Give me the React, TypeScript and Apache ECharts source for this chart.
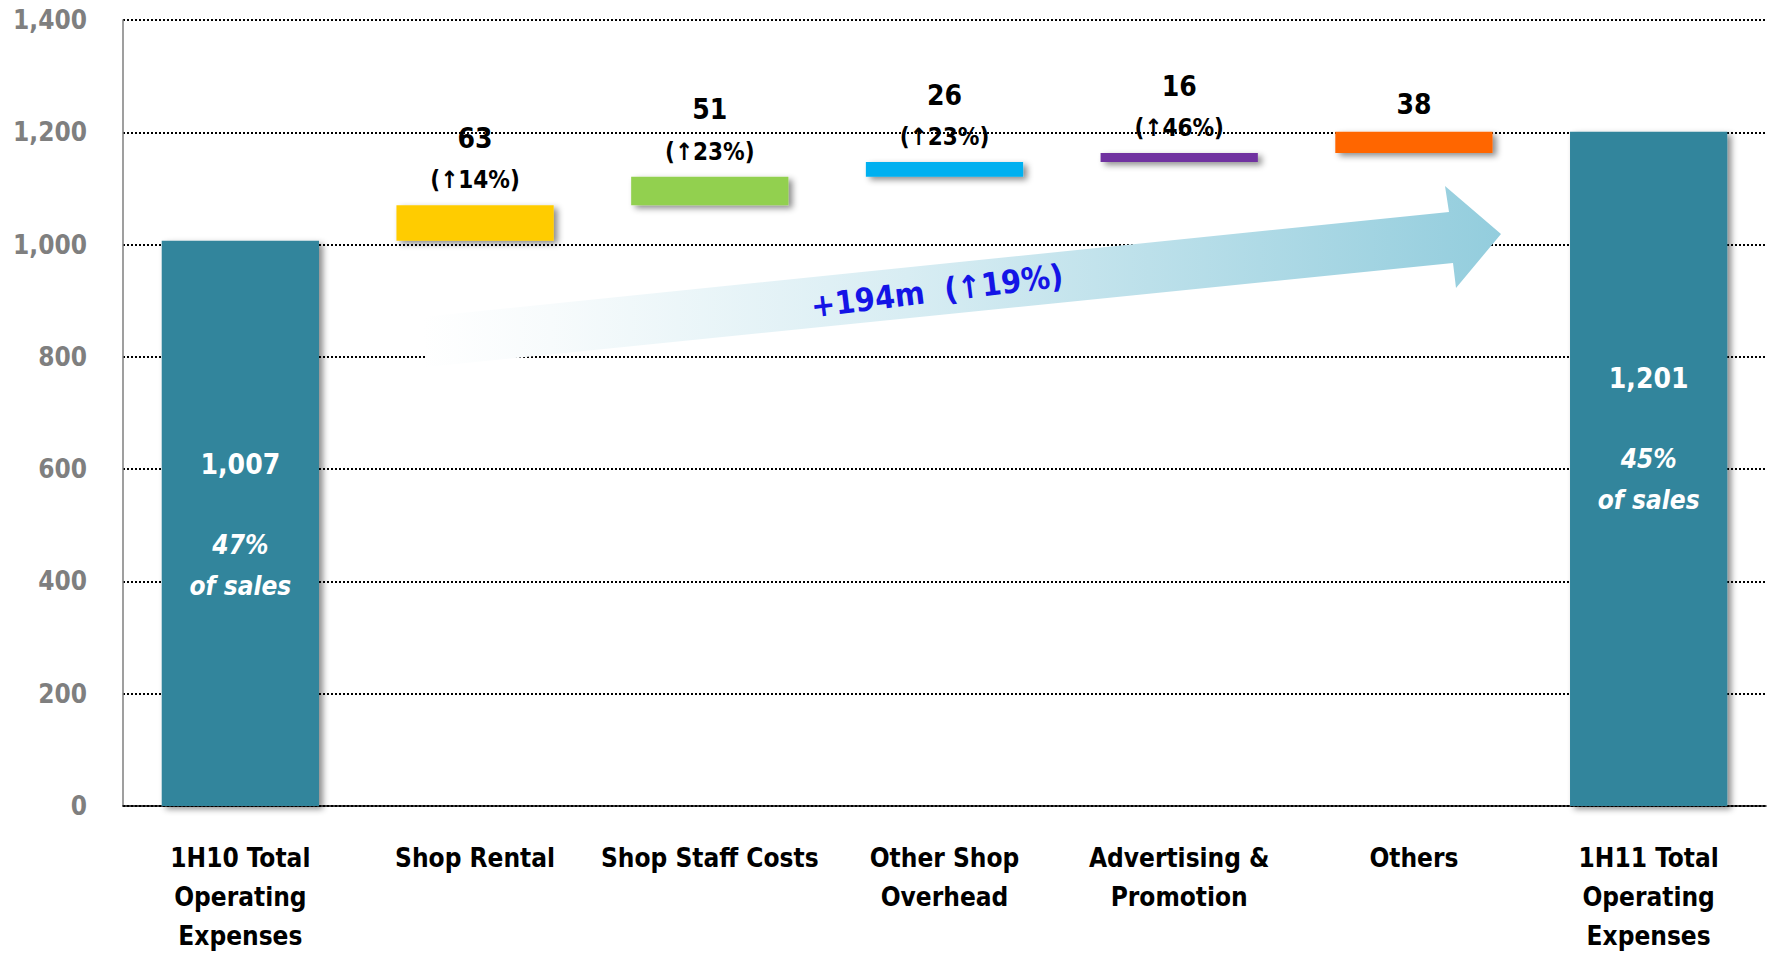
import React, { useEffect, useRef } from "react";
import * as echarts from "echarts";

const categories = [
  "1H10 Total\nOperating\nExpenses",
  "Shop Rental",
  "Shop Staff Costs",
  "Other Shop\nOverhead",
  "Advertising &\nPromotion",
  "Others",
  "1H11 Total\nOperating\nExpenses",
];
const startTotal = 1007;
const increments = [63, 51, 26, 16, 38];
const endTotal = 1201;
const growthPct = ["14%", "23%", "23%", "46%", ""];
const shareOfSales = ["47%", "45%"];
const barColors = ["#31859C", "#FFCC00", "#92D050", "#00B0F0", "#7030A0", "#FF6600", "#31859C"];
const yTicks = [0, 200, 400, 600, 800, 1000, 1200, 1400];
const totalChange = "+194m";
const totalPct = "19%";

const FONT = "'Liberation Sans Narrow', 'DejaVu Sans Condensed', 'Noto Sans', sans-serif";

export default function App() {
  const ref = useRef<HTMLDivElement>(null);
  useEffect(() => {
    if (!ref.current) return;
    const chart = echarts.init(ref.current, null, { renderer: "svg" });

    // waterfall bases
    const bases: number[] = [0];
    let run = startTotal;
    increments.forEach((v) => {
      bases.push(run);
      run += v;
    });
    bases.push(0);
    const heights = [startTotal, ...increments, endTotal];

    const shadow = {
      shadowColor: "rgba(0,0,0,0.45)",
      shadowBlur: 6,
      shadowOffsetX: 4,
      shadowOffsetY: 3,
    };

    const totalLabel = (val: number, share: string, offsetY: number) => ({
      show: true,
      position: "inside",
      offset: [0, offsetY],
      formatter: `{n|${val.toLocaleString("en-US")}}\n{g| }\n{i|${share}}\n{i|of sales}`,
      rich: {
        n: { color: "#fff", fontFamily: FONT, fontWeight: "bold", fontSize: 28, lineHeight: 40 },
        g: { fontSize: 10, lineHeight: 40 },
        i: { color: "#fff", fontFamily: FONT, fontWeight: "bold", fontStyle: "italic", fontSize: 26, lineHeight: 41 },
      },
    });

    const valueData = heights.map((h, i) => {
      const item: any = {
        value: h,
        itemStyle: { color: barColors[i], ...shadow },
      };
      if (i === 0) item.label = totalLabel(h, shareOfSales[0], 2);
      else if (i === heights.length - 1) item.label = totalLabel(h, shareOfSales[1], -29);
      else {
        const pct = growthPct[i - 1];
        item.label = {
          show: true,
          position: "top",
          distance: 5,
          formatter: pct ? `{v|${h}}\n{p|(↑${pct})}` : `{v|${h}}`,
          rich: {
            v: { color: "#000", fontFamily: FONT, fontWeight: "bold", fontSize: 28, lineHeight: 44 },
            p: { color: "#000", fontFamily: FONT, fontWeight: "bold", fontSize: 24, lineHeight: 40 },
          },
        };
      }
      return item;
    });

    const arrowPoints = [
      [422, 317],
      [1449, 212],
      [1445, 186],
      [1501, 234],
      [1456, 288],
      [1453, 263],
      [426, 367],
    ];

    chart.setOption({
      animation: false,
      backgroundColor: "#ffffff",
      grid: { left: 123, right: 5, top: 20, height: 791, containLabel: false },
      xAxis: {
        type: "category",
        data: categories,
        axisTick: { show: false },
        axisLine: { show: true, lineStyle: { color: "#000", width: 1.5 } },
        axisLabel: {
          interval: 0,
          margin: 32,
          color: "#000",
          fontFamily: FONT,
          fontWeight: "bold",
          fontSize: 26,
          lineHeight: 39,
        },
      },
      yAxis: {
        type: "value",
        min: yTicks[0],
        max: yTicks[yTicks.length - 1],
        interval: yTicks[1] - yTicks[0],
        axisLine: { show: true, lineStyle: { color: "#7f7f7f", width: 1.5 } },
        axisTick: { show: false },
        axisLabel: {
          margin: 36,
          color: "#7f7f7f",
          fontFamily: FONT,
          fontWeight: "bold",
          fontSize: 26,
          formatter: (v: number) => v.toLocaleString("en-US"),
        },
        splitLine: {
          show: true,
          lineStyle: { color: "#000", width: 2, type: [2, 2] },
        },
      },
      graphic: [
        {
          type: "polygon",
          z: 1,
          shape: { points: arrowPoints },
          style: {
            fill: new echarts.graphic.LinearGradient(0, 0, 1, 0, [
              { offset: 0, color: "rgba(255,255,255,1)" },
              { offset: 0.12, color: "#F7FBFC" },
              { offset: 0.45, color: "#D8EDF3" },
              { offset: 1, color: "#93CDDD" },
            ]),
          },
        },
        {
          type: "text",
          z: 2,
          x: 937,
          y: 291,
          rotation: (7 * Math.PI) / 180,
          style: {
            text: `${totalChange}  (↑${totalPct})`,
            fill: "#1414E6",
            font: `bold 32px ${FONT}`,
            align: "center",
            verticalAlign: "middle",
          },
        },
      ],
      series: [
        {
          type: "bar",
          stack: "wf",
          data: bases,
          barWidth: "67%",
          itemStyle: { color: "transparent" },
          emphasis: { disabled: true },
          silent: true,
          z: 3,
        },
        {
          type: "bar",
          stack: "wf",
          data: valueData,
          barWidth: "67%",
          z: 3,
        },
      ],
    });
    return () => chart.dispose();
  }, []);
  return (
    <div
      ref={ref}
      style={{ position: "absolute", left: 0, top: 0, width: 1771, height: 955 }}
    />
  );
}
